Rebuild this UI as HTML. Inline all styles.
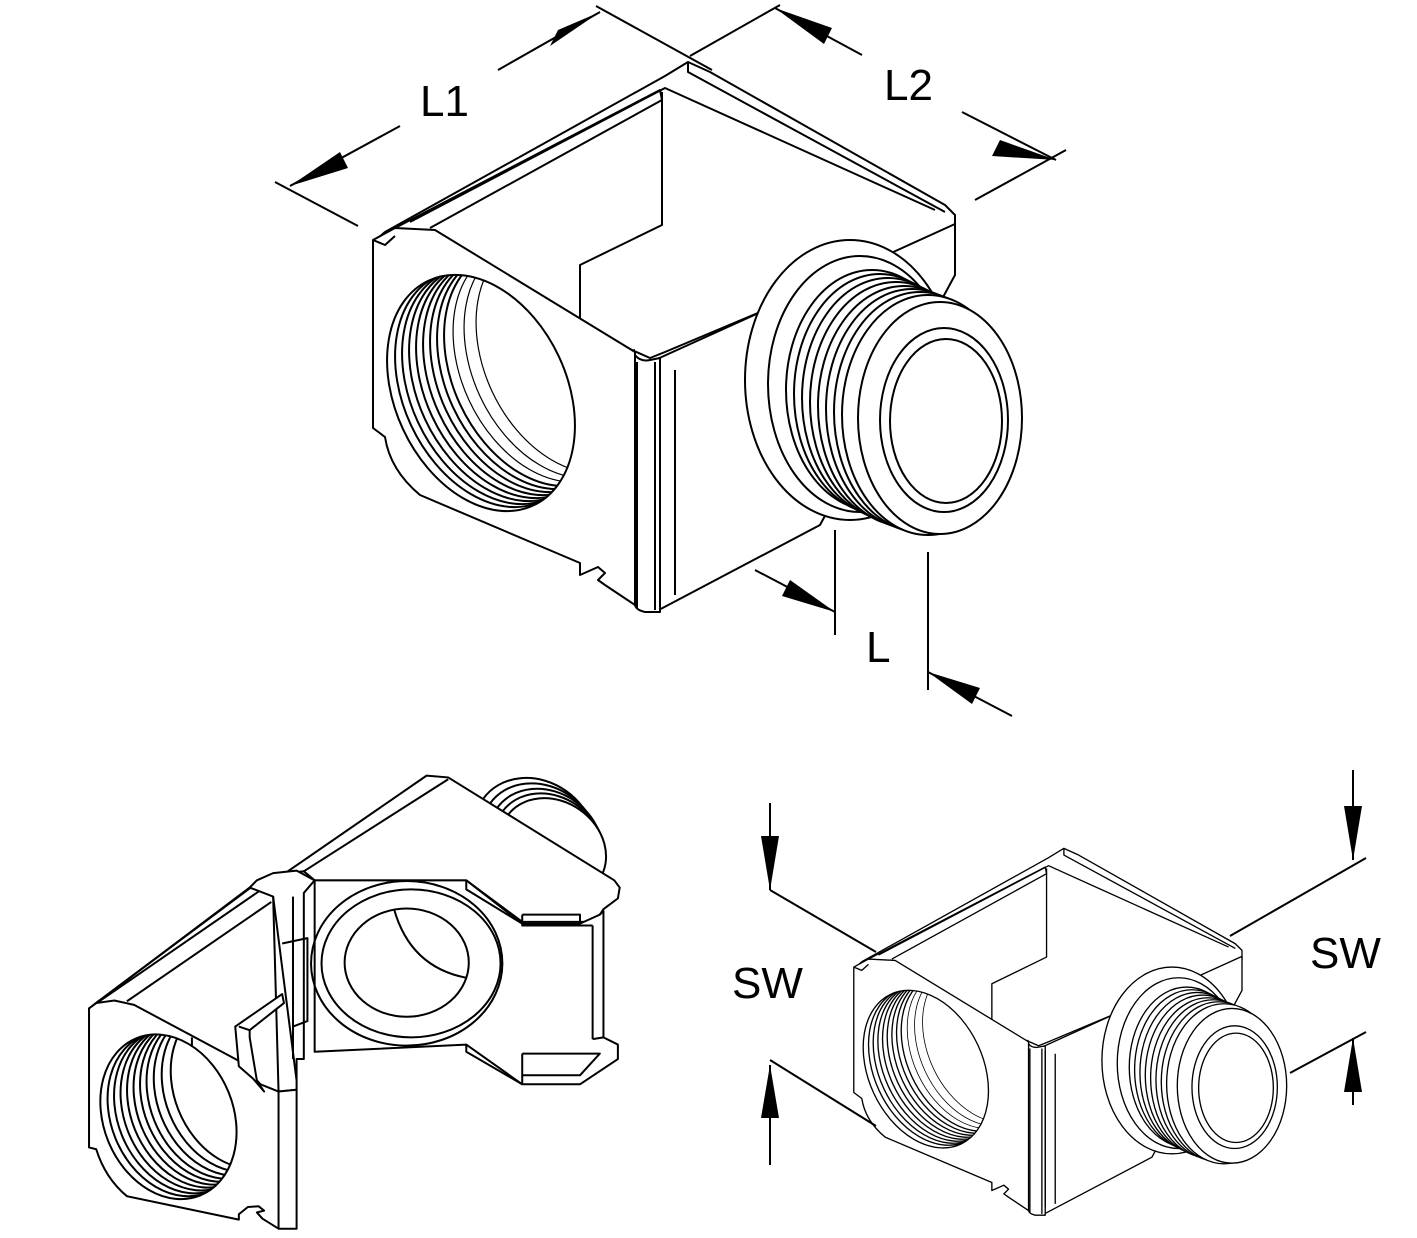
<!DOCTYPE html>
<html><head><meta charset="utf-8"><style>
html,body{margin:0;padding:0;background:#fff}
svg{display:block}
text{font-family:"Liberation Sans",sans-serif;font-size:44px;fill:#000}
</style></head><body>
<svg width="1417" height="1238" viewBox="0 0 1417 1238" xmlns="http://www.w3.org/2000/svg">
<defs>
<clipPath id="hc"><ellipse cx="481" cy="393" rx="86" ry="124" transform="rotate(-25 481 393)"/></clipPath>
<clipPath id="fc"><ellipse cx="245" cy="980" rx="180" ry="235" transform="rotate(-22 245 980)"/></clipPath>
<g id="cube" fill="none" stroke="#000" stroke-width="2" stroke-linejoin="round">
  <path d="M385,232 L665,76 L688,62 L710,72 L945,205 L955,215 L955,230 L665,352 L650,358 L378,238 Z" fill="#fff"/>
  <path d="M410,222 L665,88 L935,210"/>
  <path d="M395,228 L660,90 L662,100 L430,228"/>
  <path d="M688,62 L688,72 L945,212"/>
  <path d="M662,92 L662,225 L580,265 L580,330 L610,345 L605,358 L635,350"/>
  <path d="M655,360 L955,224 L955,275 L820,525 L655,612 Z" fill="#fff"/>
  <ellipse cx="850" cy="380" rx="105" ry="140" fill="#fff"/>
  <ellipse cx="860" cy="384" rx="92" ry="128"/>
  <ellipse cx="872" cy="390" rx="86" ry="120" fill="#fff"/>
  <ellipse cx="880" cy="394" rx="86" ry="120" fill="#fff"/>
  <ellipse cx="888" cy="398" rx="86" ry="120" fill="#fff"/>
  <ellipse cx="896" cy="402" rx="86" ry="120" fill="#fff"/>
  <ellipse cx="904" cy="406" rx="86" ry="120" fill="#fff"/>
  <ellipse cx="912" cy="409" rx="86" ry="120" fill="#fff"/>
  <ellipse cx="920" cy="412" rx="86" ry="120" fill="#fff"/>
  <ellipse cx="928" cy="415" rx="86" ry="120" fill="#fff"/>
  <ellipse cx="940" cy="418" rx="82" ry="116" fill="#fff"/>
  <ellipse cx="944" cy="420" rx="64" ry="92"/>
  <ellipse cx="946" cy="421" rx="56" ry="82"/>
  <path d="M635,355 Q640,362 650,360 L660,358 L660,612 L645,612 Q636,610 635,605 Z" fill="#fff"/>
  <path d="M637,362 L637,608 M655,362 L655,610 M660,365 L660,600 M675,370 L675,595"/>
  <path d="M373,240 L395,228 L435,230 L635,352 L635,605 L605,585 L598,580 L605,573 L598,567 L580,575 L580,563 L420,495 Q390,470 385,437 L373,428 Z" fill="#fff"/>
  <path d="M373,240 L385,245 L395,236"/>
  <ellipse cx="481" cy="393" rx="86" ry="124" transform="rotate(-25 481 393)" fill="#fff"/>
  <g clip-path="url(#hc)">
    <ellipse cx="489" cy="389" rx="86" ry="124" transform="rotate(-25 489 389)"/>
    <ellipse cx="496" cy="386" rx="86" ry="124" transform="rotate(-25 496 386)"/>
    <ellipse cx="503" cy="383" rx="86" ry="124" transform="rotate(-25 503 383)"/>
    <ellipse cx="510" cy="380" rx="86" ry="124" transform="rotate(-25 510 380)"/>
    <ellipse cx="517" cy="377" rx="86" ry="124" transform="rotate(-25 517 377)"/>
    <ellipse cx="524" cy="374" rx="86" ry="124" transform="rotate(-25 524 374)"/>
    <ellipse cx="531" cy="371" rx="86" ry="124" transform="rotate(-25 531 371)"/>
    <ellipse cx="538" cy="368" rx="86" ry="124" transform="rotate(-25 538 368)"/>
    <ellipse cx="547" cy="364" rx="86" ry="124" transform="rotate(-25 547 364)" stroke-width="1.2"/>
    <ellipse cx="558" cy="360" rx="86" ry="124" transform="rotate(-25 558 360)" stroke-width="1.2"/>
    <ellipse cx="570" cy="355" rx="86" ry="124" transform="rotate(-25 570 355)" stroke-width="1.2"/>
  </g>
</g>
</defs>

<use href="#cube"/>
<use href="#cube" transform="translate(605,807) scale(0.667)"/>

<g stroke="#000" stroke-width="2" fill="none">
  <line x1="275" y1="182" x2="358" y2="226"/>
  <line x1="596" y1="6" x2="712" y2="70"/>
  <line x1="690" y1="56" x2="780" y2="5"/>
  <line x1="975" y1="200" x2="1066" y2="150"/>
  <line x1="290" y1="186" x2="400" y2="126"/>
  <line x1="498" y1="70" x2="600" y2="12"/>
  <line x1="775" y1="8" x2="862" y2="55"/>
  <line x1="962" y1="112" x2="1056" y2="160"/>
  <line x1="835" y1="530" x2="835" y2="635"/>
  <line x1="928" y1="552" x2="928" y2="690"/>
  <line x1="755" y1="570" x2="835" y2="612"/>
  <line x1="1012" y1="716" x2="928" y2="672"/>
  <line x1="770" y1="803" x2="770" y2="890"/>
  <line x1="770" y1="1065" x2="770" y2="1165"/>
  <line x1="770" y1="890" x2="876" y2="952"/>
  <line x1="770" y1="1060" x2="876" y2="1126"/>
  <line x1="1353" y1="770" x2="1353" y2="860"/>
  <line x1="1353" y1="1038" x2="1353" y2="1105"/>
  <line x1="1230" y1="936" x2="1366" y2="858"/>
  <line x1="1290" y1="1073" x2="1366" y2="1032"/>
</g>
<g fill="#000">
  <polygon points="290,186 340,152 348,168"/>
  <polygon points="600,12 550,46 558,30"/>
  <polygon points="775,8 832,28 824,44"/>
  <polygon points="1056,160 1000,140 992,156"/>
  <polygon points="835,612 782,596 790,580"/>
  <polygon points="928,672 980,688 972,704"/>
  <polygon points="770,890 761,836 779,836"/>
  <polygon points="770,1065 761,1118 779,1118"/>
  <polygon points="1353,860 1344,806 1362,806"/>
  <polygon points="1353,1038 1344,1092 1362,1092"/>
</g>
<text x="420" y="116">L1</text>
<text x="884" y="100">L2</text>
<text x="866" y="662">L</text>
<text x="732" y="998">SW</text>
<text x="1310" y="968">SW</text>

<g transform="translate(80,763) scale(0.361)" fill="none" stroke="#000" stroke-width="2" stroke-linejoin="round">
  <g>
  <g fill="#fff">
    <ellipse cx="1260" cy="200" rx="175" ry="150" transform="rotate(35 1260 200)" vector-effect="non-scaling-stroke"/>
    <ellipse cx="1275" cy="210" rx="170" ry="145" transform="rotate(35 1275 210)" vector-effect="non-scaling-stroke"/>
    <ellipse cx="1290" cy="220" rx="165" ry="140" transform="rotate(35 1290 220)" vector-effect="non-scaling-stroke"/>
    <ellipse cx="1300" cy="228" rx="160" ry="135" transform="rotate(35 1300 228)" vector-effect="non-scaling-stroke"/>
    <ellipse cx="1310" cy="236" rx="155" ry="130" transform="rotate(35 1310 236)" vector-effect="non-scaling-stroke"/>
  </g>
  <path vector-effect="non-scaling-stroke" fill="#fff" d="M25,680 L960,35 L1020,40 L1480,325 L1495,345 L1490,375 L1450,405 L1440,420 L1420,440 L1225,440 L1070,325 L650,325 L620,300 L535,310 L470,345 L25,680 Z"/>
  <path vector-effect="non-scaling-stroke" d="M40,668 L500,325 M130,660 L530,385 M620,300 L1020,45"/>
  <path vector-effect="non-scaling-stroke" fill="#fff" d="M650,325 L1070,325 L1225,445 L1385,445 L1440,420 L1450,410 L1450,760 L1490,780 L1490,820 L1385,890 L1225,890 L1070,780 L650,800 Z"/>
  <path vector-effect="non-scaling-stroke" d="M1070,325 L1070,350 L1225,445 M1225,420 L1385,420 L1385,445 M1225,420 L1225,450 L1420,450 M1420,450 L1420,765 M1070,780 L1070,800 L1225,890 M1225,805 L1440,805 L1385,865 L1225,865 L1225,805 M1225,865 L1225,890 M1420,765 L1450,760"/>
  <ellipse vector-effect="non-scaling-stroke" cx="905" cy="555" rx="265" ry="228"/>
  <ellipse vector-effect="non-scaling-stroke" cx="917" cy="555" rx="248" ry="205"/>
  <ellipse vector-effect="non-scaling-stroke" cx="905" cy="553" rx="172" ry="150"/>
  <path vector-effect="non-scaling-stroke" d="M870,405 Q915,565 1070,595"/>
  <path vector-effect="non-scaling-stroke" fill="#fff" d="M470,345 L490,325 L535,305 L600,298 L650,325 L620,360 L620,820 L600,820 L600,905 L550,910 L535,370 Z"/>
  <path vector-effect="non-scaling-stroke" d="M535,370 L600,880 M560,500 L630,485 L630,715 L590,730 M590,370 L590,820"/>
  <path vector-effect="non-scaling-stroke" fill="#fff" d="M25,680 L45,665 L95,658 L150,670 L440,825 L500,890 L550,910 L600,905 L600,1290 L550,1290 L505,1262 L490,1245 L510,1240 L495,1228 L465,1230 L440,1250 L440,1265 L130,1200 Q70,1150 45,1070 L25,1065 Z"/>
  <path vector-effect="non-scaling-stroke" d="M550,910 L550,1290"/>
  <path vector-effect="non-scaling-stroke" fill="#fff" d="M430,730 L560,640 L565,665 L470,740 L470,760 L490,880 L510,910 L480,875 L440,840 Z"/>
  <path vector-effect="non-scaling-stroke" d="M470,740 L440,730 M310,760 L310,820"/>
  <ellipse vector-effect="non-scaling-stroke" cx="245" cy="980" rx="180" ry="235" transform="rotate(-22 245 980)" fill="#fff"/>
  <g clip-path="url(#fc)">
    <ellipse vector-effect="non-scaling-stroke" cx="265" cy="972" rx="180" ry="235" transform="rotate(-22 265 972)"/>
    <ellipse vector-effect="non-scaling-stroke" cx="283" cy="964" rx="180" ry="235" transform="rotate(-22 283 964)"/>
    <ellipse vector-effect="non-scaling-stroke" cx="301" cy="956" rx="180" ry="235" transform="rotate(-22 301 956)"/>
    <ellipse vector-effect="non-scaling-stroke" cx="319" cy="948" rx="180" ry="235" transform="rotate(-22 319 948)"/>
    <ellipse vector-effect="non-scaling-stroke" cx="337" cy="940" rx="180" ry="235" transform="rotate(-22 337 940)"/>
    <ellipse vector-effect="non-scaling-stroke" cx="355" cy="932" rx="180" ry="235" transform="rotate(-22 355 932)"/>
    <ellipse vector-effect="non-scaling-stroke" cx="373" cy="924" rx="180" ry="235" transform="rotate(-22 373 924)"/>
    <ellipse vector-effect="non-scaling-stroke" cx="393" cy="915" rx="180" ry="235" transform="rotate(-22 393 915)"/>
    <ellipse vector-effect="non-scaling-stroke" cx="415" cy="905" rx="180" ry="235" transform="rotate(-22 415 905)"/>
    <ellipse vector-effect="non-scaling-stroke" cx="440" cy="895" rx="180" ry="235" transform="rotate(-22 440 895)"/>
  </g>
  </g>
</g>
</svg>
</body></html>
